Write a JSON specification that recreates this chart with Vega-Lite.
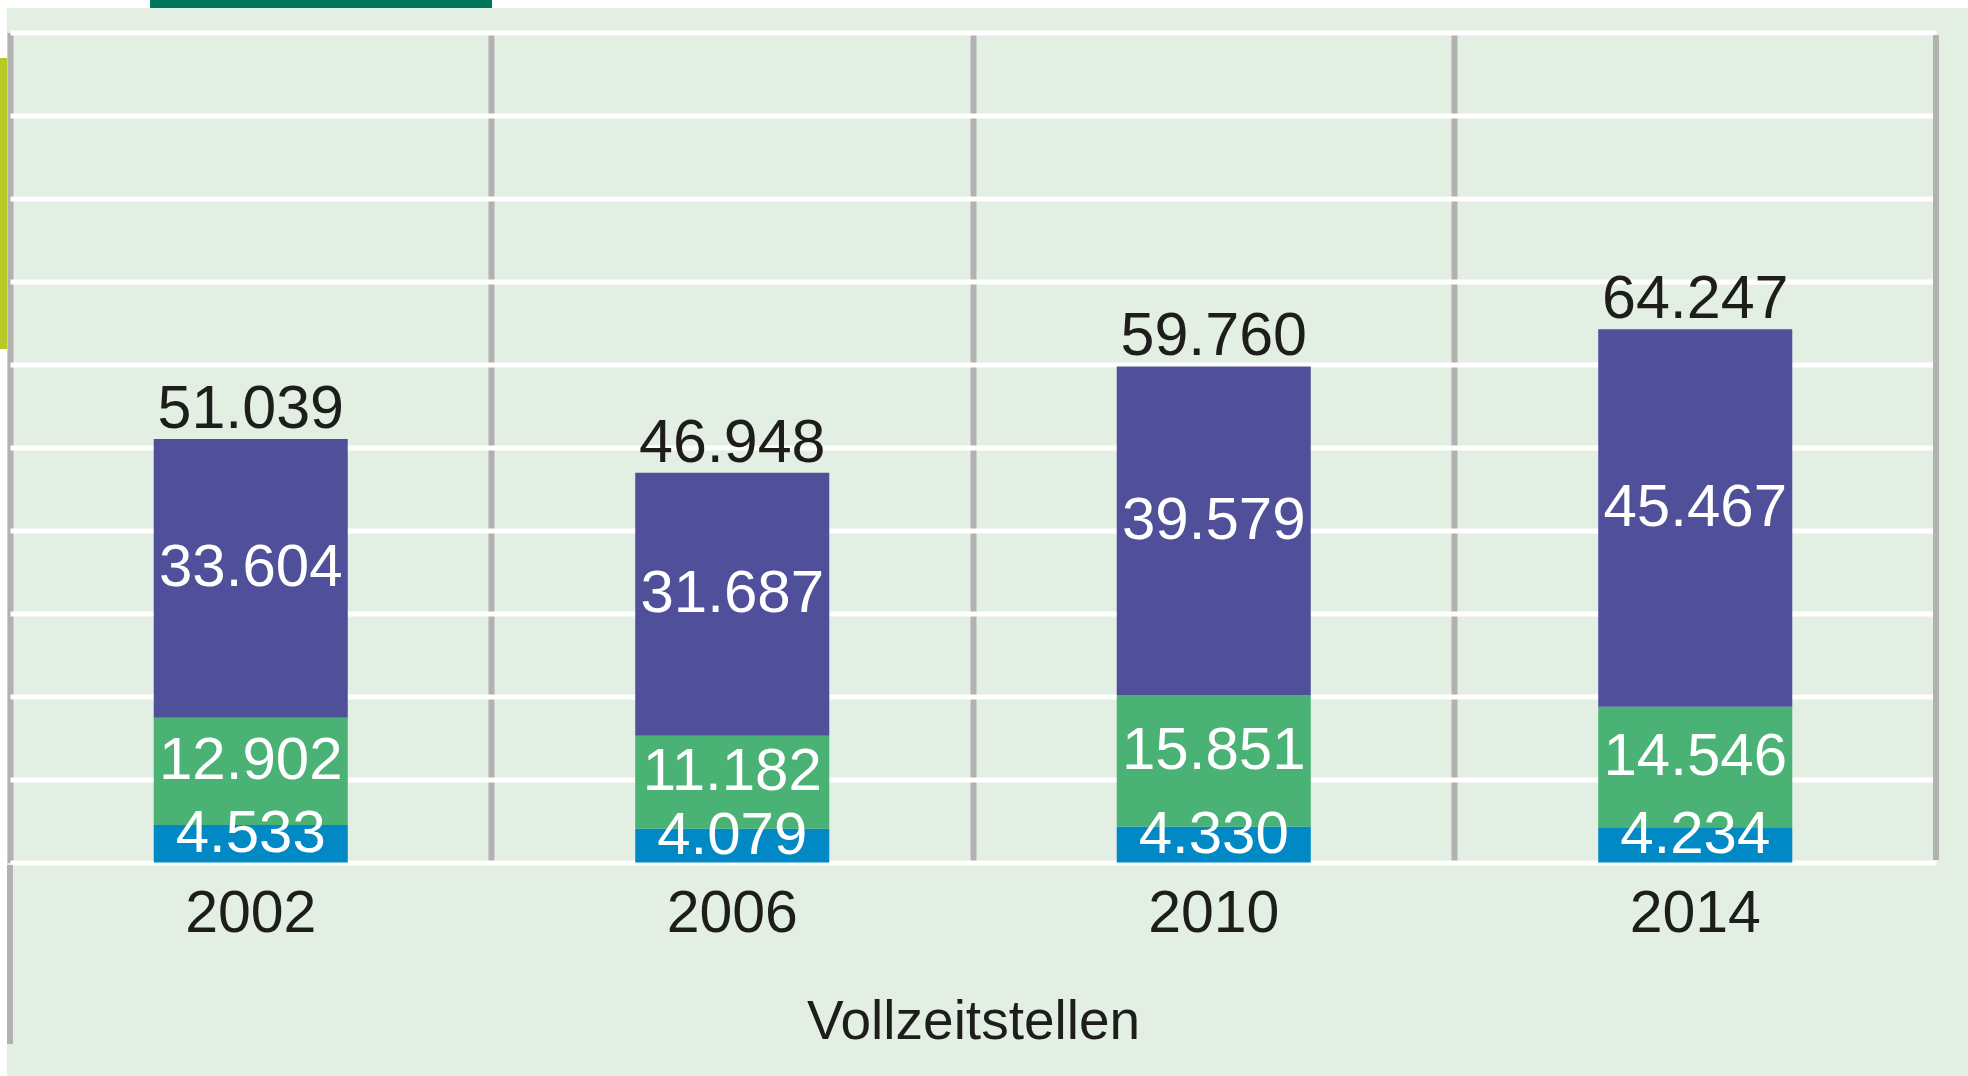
{
  "$schema": "https://vega.github.io/schema/vega-lite/v6.json",
  "width": 1926,
  "height": 830,
  "autosize": {"type": "none"},
  "padding": {"left": 10, "top": 32.5, "right": 32, "bottom": 213.5},
  "background": "#e4efe3",
  "config": {
    "view": {"stroke": null},
    "locale": {"number": {"decimal": ",", "thousands": ".", "grouping": [3], "currency": ["", " €"]}},
    "text": {"font": "Liberation Sans, Arial, sans-serif"}
  },
  "data": {
    "values": [
      {"jahr": "2002", "gruppe": "A", "wert": 4533},
      {"jahr": "2002", "gruppe": "B", "wert": 12902},
      {"jahr": "2002", "gruppe": "C", "wert": 33604},
      {"jahr": "2006", "gruppe": "A", "wert": 4079},
      {"jahr": "2006", "gruppe": "B", "wert": 11182},
      {"jahr": "2006", "gruppe": "C", "wert": 31687},
      {"jahr": "2010", "gruppe": "A", "wert": 4330},
      {"jahr": "2010", "gruppe": "B", "wert": 15851},
      {"jahr": "2010", "gruppe": "C", "wert": 39579},
      {"jahr": "2014", "gruppe": "A", "wert": 4234},
      {"jahr": "2014", "gruppe": "B", "wert": 14546},
      {"jahr": "2014", "gruppe": "C", "wert": 45467}
    ]
  },
  "encoding": {
    "x": {
      "field": "jahr",
      "type": "nominal",
      "scale": {"paddingInner": 0, "paddingOuter": 0, "domain": ["2002", "2006", "2010", "2014"]},
      "axis": {
        "orient": "bottom",
        "zindex": 0,
        "grid": true,
        "gridColor": "#b1b1b1",
        "gridWidth": 6,
        "gridOpacity": 1,
        "bandPosition": 0,
        "domain": false,
        "ticks": false,
        "labelAngle": 0,
        "labelFont": "Liberation Sans, Arial, sans-serif",
        "labelFontSize": 59,
        "labelColor": "#1d1d1b",
        "labelPadding": 22,
        "labelBaseline": "top",
        "title": "Vollzeitstellen",
        "titleFont": "Liberation Sans, Arial, sans-serif",
        "titleFontSize": 55,
        "titleFontWeight": "normal",
        "titleColor": "#1d1d1b",
        "titlePadding": 52
      }
    }
  },
  "layer": [
    {
      "data": {"values": [{}]},
      "mark": {"type": "rect", "color": "#ffffff"},
      "encoding": {
        "x": {"datum": "2002", "bandPosition": -0.03},
        "x2": {"datum": "2014", "bandPosition": 1.08},
        "y": {"datum": 105000},
        "y2": {"datum": 102952}
      }
    },
    {
      "data": {"values": [{}]},
      "mark": {"type": "rect", "color": "#ffffff"},
      "encoding": {
        "x": {"datum": "2002", "bandPosition": -0.03},
        "x2": {"datum": "2002", "bandPosition": -0.0062},
        "y": {"datum": 105000},
        "y2": {"datum": -27000}
      }
    },
    {
      "data": {"values": [{}]},
      "mark": {"type": "rect", "color": "#00775a"},
      "encoding": {
        "x": {"datum": "2002", "bandPosition": 0.2908},
        "x2": {"datum": "2002", "bandPosition": 1.001},
        "y": {"datum": 105000},
        "y2": {"datum": 102952}
      }
    },
    {
      "data": {"values": [{}]},
      "mark": {"type": "rect", "color": "#b9c926"},
      "encoding": {
        "x": {"datum": "2002", "bandPosition": -0.03},
        "x2": {"datum": "2002", "bandPosition": -0.0062},
        "y": {"datum": 96928},
        "y2": {"datum": 61867}
      }
    },
    {
      "data": {"values": [{}]},
      "mark": {"type": "rule", "color": "#b1b1b1", "strokeWidth": 6},
      "encoding": {
        "x": {"datum": "2014", "bandPosition": 1},
        "y": {"datum": 99700},
        "y2": {"datum": 300}
      }
    },
    {
      "data": {"values": [{}]},
      "mark": {"type": "rule", "color": "#b1b1b1", "strokeWidth": 6},
      "encoding": {
        "x": {"datum": "2002", "bandPosition": 0},
        "y": {"datum": -301},
        "y2": {"datum": -21867}
      }
    },
    {
      "mark": {"type": "bar", "width": {"band": 0.403}},
      "encoding": {
        "y": {
          "field": "wert",
          "type": "quantitative",
          "stack": "zero",
          "scale": {"domain": [0, 100000], "nice": false, "zero": true},
          "axis": {
            "zindex": 0,
            "grid": true,
            "gridColor": "#ffffff",
            "gridWidth": 5,
            "gridOpacity": 1,
            "values": [0, 10000, 20000, 30000, 40000, 50000, 60000, 70000, 80000, 90000, 100000],
            "domain": false,
            "ticks": false,
            "labels": false,
            "title": null
          }
        },
        "color": {
          "field": "gruppe",
          "type": "nominal",
          "scale": {"domain": ["A", "B", "C"], "range": ["#0089c4", "#4ab275", "#50509a"]},
          "legend": null
        },
        "order": {"field": "gruppe", "sort": "ascending"}
      }
    },
    {
      "mark": {"type": "text", "color": "#ffffff", "fontSize": 60, "baseline": "middle", "align": "center", "dy": -10},
      "encoding": {
        "y": {"field": "wert", "type": "quantitative", "stack": "zero", "bandPosition": 0.5},
        "detail": {"field": "gruppe"},
        "order": {"field": "gruppe", "sort": "ascending"},
        "text": {"field": "wert", "type": "quantitative", "format": ",d"}
      }
    },
    {
      "mark": {"type": "text", "color": "#1d1d1b", "fontSize": 61, "baseline": "alphabetic", "align": "center", "dy": -11},
      "encoding": {
        "y": {"aggregate": "sum", "field": "wert", "type": "quantitative"},
        "text": {"aggregate": "sum", "field": "wert", "type": "quantitative", "format": ",d"}
      }
    }
  ]
}
